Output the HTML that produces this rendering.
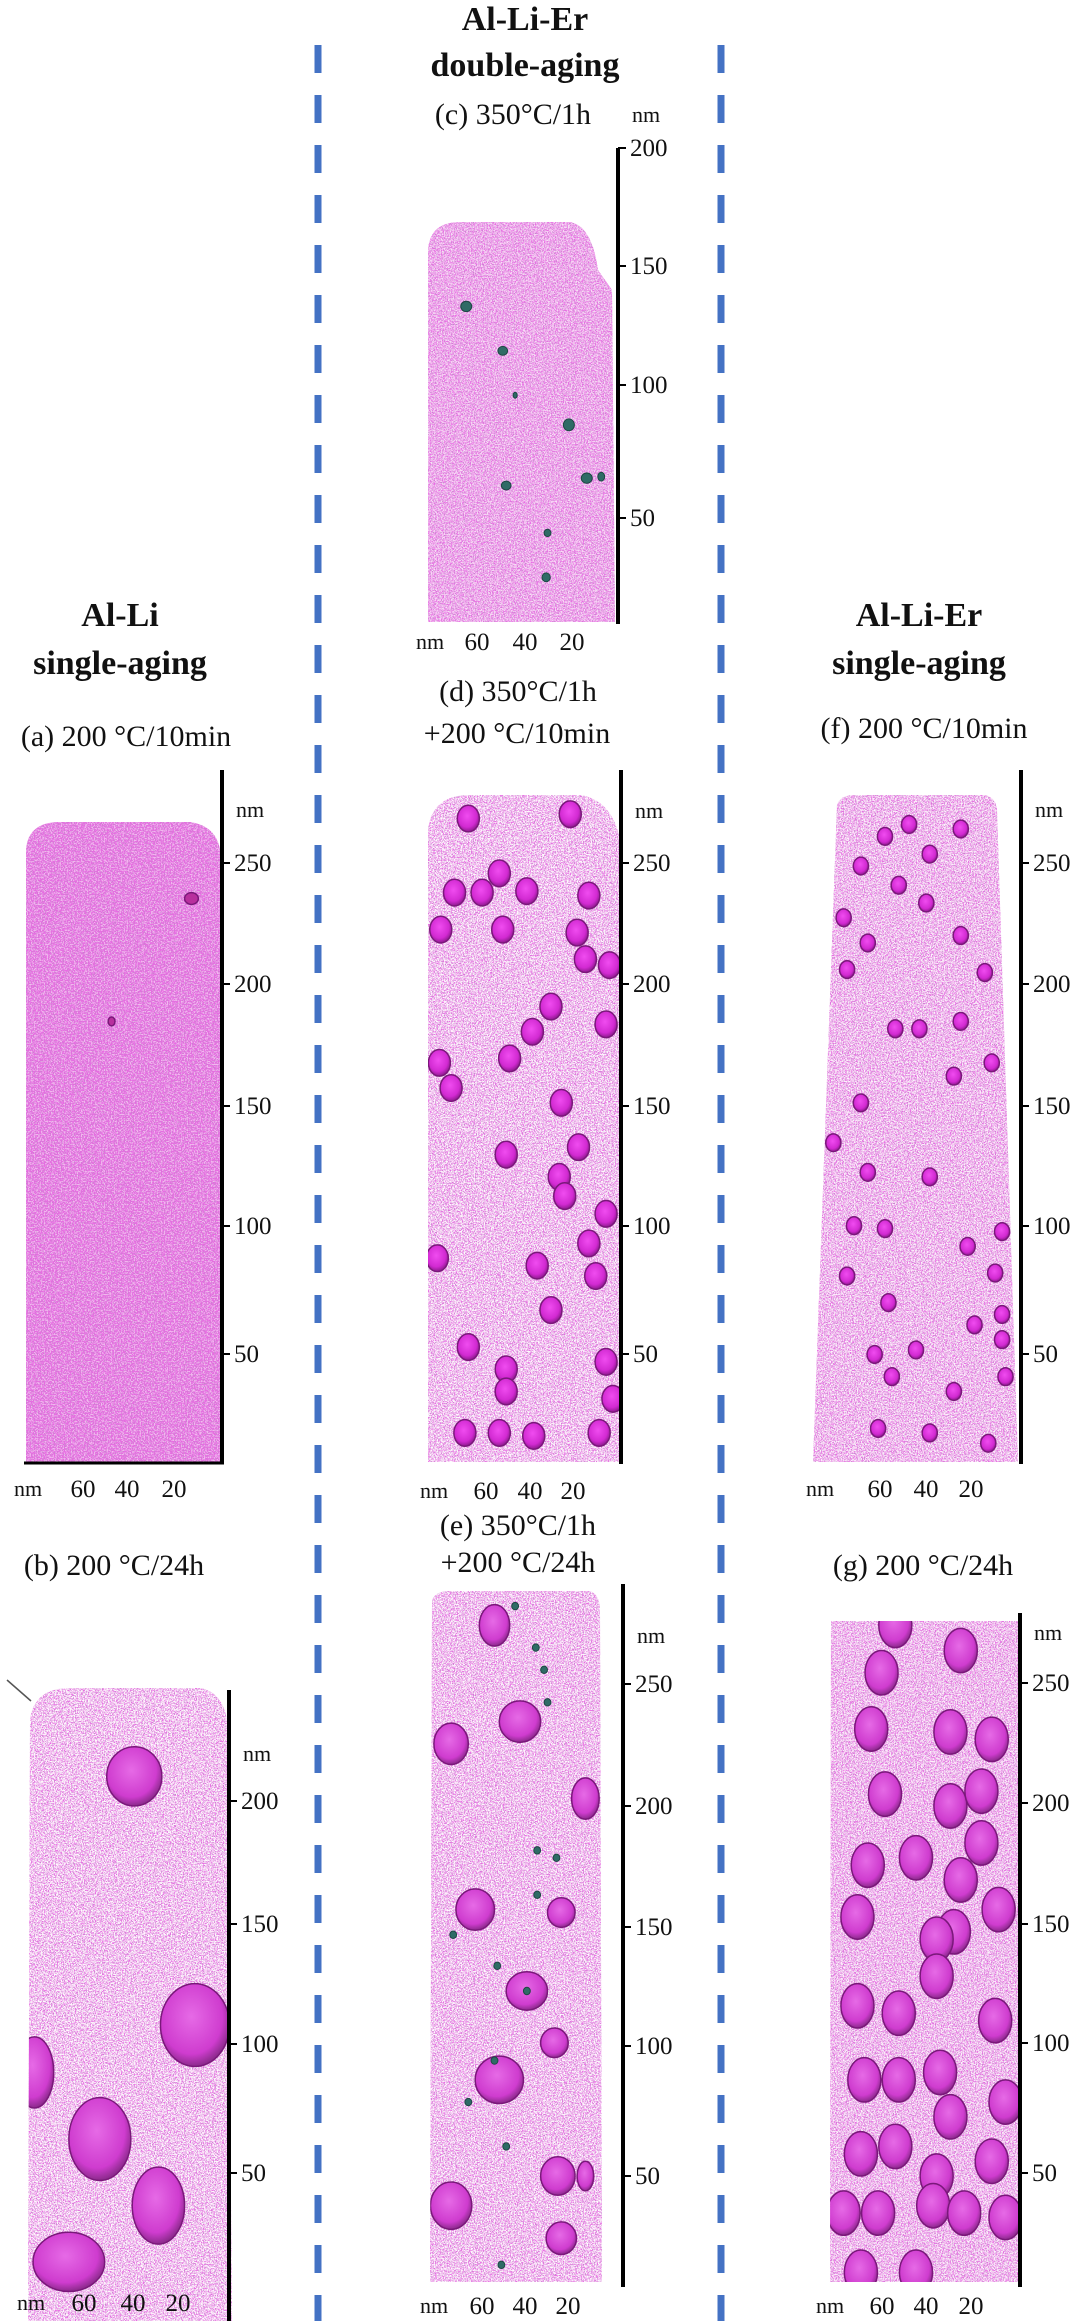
<!DOCTYPE html>
<html><head><meta charset="utf-8">
<style>
html,body{margin:0;padding:0;background:#fff;}
svg{display:block;}
text{font-family:"Liberation Serif",serif;fill:#111;}
.t{font-weight:bold;font-size:34px;}
.l{font-size:30px;}
.k{font-size:25px;}
.n{font-size:22px;}
</style></head>
<body>
<svg id="fig" width="1080" height="2321" viewBox="0 0 1080 2321" xmlns="http://www.w3.org/2000/svg">
<defs>
<filter id="speck" x="0" y="0" width="100%" height="100%">
<feTurbulence type="fractalNoise" baseFrequency="0.85" numOctaves="1" seed="3"/>
<feColorMatrix type="matrix" values="0 0 0 0 0.82  0 0 0 0 0.15  0 0 0 0 0.78  7 0 0 0 -3.1"/>
</filter>
<filter id="speck2" x="0" y="0" width="100%" height="100%">
<feTurbulence type="fractalNoise" baseFrequency="0.9" numOctaves="1" seed="8"/>
<feColorMatrix type="matrix" values="0 0 0 0 0.55  0 0 0 0 0.25  0 0 0 0 0.6  8 0 0 0 -4.6"/>
</filter>
<filter id="speckw" x="0" y="0" width="100%" height="100%">
<feTurbulence type="fractalNoise" baseFrequency="0.7" numOctaves="2" seed="15"/>
<feColorMatrix type="matrix" values="0 0 0 0 1  0 0 0 0 1  0 0 0 0 1  9 0 0 0 -4.3"/>
</filter>
<radialGradient id="blob" cx="45%" cy="40%" r="60%">
<stop offset="0" stop-color="#f04cf0"/><stop offset="0.7" stop-color="#d22ad2"/><stop offset="1" stop-color="#8e1a8e"/>
</radialGradient>
<radialGradient id="blobg" cx="45%" cy="40%" r="60%">
<stop offset="0" stop-color="#e66ae6"/><stop offset="0.75" stop-color="#cf3ccf"/><stop offset="1" stop-color="#8c2a8c"/>
</radialGradient>
<clipPath id="cpa"><path d="M26,1462 L26,850 Q28,822 60,822 L190,822 Q216,826 220,850 L220,1462 Z"/></clipPath>
<clipPath id="cpb"><path d="M28,2321 L30,1720 Q34,1688 70,1688 L200,1688 Q222,1692 227,1720 L232,2321 Z"/></clipPath>
<clipPath id="cpc"><path d="M428,622 L428,250 Q430,222 460,222 L570,222 Q592,226 598,270 L612,290 L615,622 Z"/></clipPath>
<clipPath id="cpd"><path d="M428,1462 L428,830 Q432,795 470,795 L580,795 Q612,800 620,840 L620,1462 Z"/></clipPath>
<clipPath id="cpe"><path d="M430,2282 L432,1600 Q436,1591 450,1591 L590,1591 Q600,1595 600,1610 L602,2282 Z"/></clipPath>
<clipPath id="cpf"><path d="M813,1462 L837,805 Q840,795 855,795 L985,795 Q996,798 997,810 L1018,1462 Z"/></clipPath>
<clipPath id="cpg"><path d="M830,2282 L831,1621 L1018,1621 L1018,2282 Z"/></clipPath>
</defs>
<g id="dashes">
<line x1="318" y1="45" x2="318" y2="2321" stroke="#4472C4" stroke-width="7" stroke-dasharray="28 22"/>
<line x1="721" y1="45" x2="721" y2="2321" stroke="#4472C4" stroke-width="7" stroke-dasharray="28 22"/>
</g>
<g id="specimens"></g>
<g id="labels"></g>
</svg>
<script>
const SX=1/1.452, SY=1.4803;
const blobsA=[[278,607,10,4],[162,690,5,3]];
const blobsB=[[195,1200,40,20],[283,1368,50,28],[50,1400,28,24],[145,1445,45,28],[230,1490,38,26],[100,1528,52,20]];
const greenC=[[677,207,8,3.5],[730,237,7,3],[748,267,3,2],[826,287,8,4],[735,328,7,3],[852,323,8,3.5],[873,322,5,3],[795,360,5,2.5],[793,390,6,3]];
const blobsD=[[680,553],[725,590],[765,602],[660,603],[700,603],[828,550],[855,605],[640,628],[730,628],[838,630],[850,648],[885,652],[800,680],[773,697],[740,715],[638,718],[655,735],[880,692],[815,745],[735,780],[840,775],[812,795],[820,808],[880,820],[855,840],[635,850],[780,855],[865,862],[800,885],[680,910],[735,925],[735,940],[880,920],[675,968],[725,968],[775,970],[870,968],[890,945]];
const blobsE=[[718,1098,22,14],[655,1178,25,14],[755,1163,30,14],[850,1215,20,14],[690,1290,28,14],[815,1292,20,10],[765,1345,30,13],[725,1405,35,16],[805,1380,20,10],[810,1470,25,13],[655,1490,30,16],[815,1512,22,11],[850,1470,12,10]];
const greenE=[[748,1085],[778,1113],[790,1128],[795,1150],[780,1250],[808,1255],[658,1307],[722,1328],[765,1345],[718,1392],[680,1420],[735,1450],[728,1530],[780,1280]];
const blobsF=[[1285,565],[1320,557],[1395,560],[1350,577],[1250,585],[1305,598],[1345,610],[1225,620],[1395,632],[1260,637],[1430,657],[1230,655],[1300,695],[1335,695],[1395,690],[1440,718],[1250,745],[1385,727],[1210,772],[1260,792],[1350,795],[1240,828],[1285,830],[1405,842],[1455,832],[1445,860],[1230,862],[1290,880],[1455,888],[1330,912],[1270,915],[1455,905],[1460,930],[1385,940],[1295,930],[1435,975],[1275,965],[1350,968],[1415,895]];
const blobsG=[[1300,1098],[1395,1115],[1280,1130],[1265,1168],[1380,1170],[1440,1175],[1285,1212],[1380,1220],[1425,1210],[1260,1260],[1330,1255],[1395,1270],[1425,1245],[1245,1295],[1385,1305],[1360,1310],[1450,1290],[1360,1335],[1245,1355],[1305,1360],[1445,1365],[1255,1405],[1305,1405],[1365,1400],[1460,1420],[1380,1430],[1250,1455],[1300,1450],[1360,1470],[1440,1460],[1225,1495],[1275,1495],[1355,1490],[1400,1495],[1460,1498],[1250,1535],[1330,1535]];
const yTicks=["250","200","150","100","50"];
const yTicksC=["200","150","100","50"];
const xTicks=["60","40","20"];

const NS="http://www.w3.org/2000/svg";
const spec=document.getElementById('specimens');
const lab=document.getElementById('labels');
function mk(tag,attrs,parent){const e=document.createElementNS(NS,tag);for(const k in attrs)e.setAttribute(k,attrs[k]);parent.appendChild(e);return e;}

function specimen(name,clip,bbox,base,blobs,defR,fill,greens,whiteOp){
  const g=mk('g',{'clip-path':'url(#'+clip+')'},spec);
  
  
  mk('rect',{x:bbox[0],y:bbox[1],width:bbox[2],height:bbox[3],fill:base},g);
  mk('rect',{x:bbox[0],y:bbox[1],width:bbox[2],height:bbox[3],filter:'url(#speck)'},g);
  mk('rect',{x:bbox[0],y:bbox[1],width:bbox[2],height:bbox[3],filter:'url(#speckw)',opacity:whiteOp},g);
  mk('rect',{x:bbox[0],y:bbox[1],width:bbox[2],height:bbox[3],filter:'url(#speck2)'},g);
  blobs.forEach(b=>{
    const rx=(b[2]||defR[0])*SX, ry=(b[3]||defR[1])*SY;
    const e=mk('ellipse',{cx:b[0]*SX,cy:b[1]*SY,rx:rx,ry:ry,fill:fill,stroke:'#7a187a','stroke-width':1.5},g);
    
    
  });
  (greens||[]).forEach(b=>{
    const e=mk('ellipse',{cx:b[0]*SX,cy:b[1]*SY,rx:(b[2]||5)*SX,ry:(b[3]||2.5)*SY,fill:'#2f6b66',stroke:'#1e4744','stroke-width':1},g);
    
    
  });
}
specimen('specimen-a','cpa',[20,815,205,650],'#e070dc',blobsA,[8,5],'#b8309e',null,0.5);
specimen('specimen-b','cpb',[20,1680,215,641],'#f6dcf3',blobsB,[30,20],'url(#blobg)',null,0.9);
specimen('specimen-c','cpc',[425,218,192,406],'#eeb4eb',[],[0,0],'',greenC,0.6);
specimen('specimen-d','cpd',[425,790,198,675],'#f4d4f1',blobsD,[16,9],'url(#blob)',null,0.9);
specimen('specimen-e','cpe',[428,1588,176,696],'#f4d4f1',blobsE,[20,12],'url(#blobg)',greenE,0.9);
specimen('specimen-f','cpf',[810,790,210,675],'#f2cdef',blobsF,[11,6],'url(#blob)',null,0.8);
specimen('specimen-g','cpg',[828,1618,192,666],'#f2cdef',blobsG,[24,15],'url(#blobg)',null,0.8);

function txt(s,x,y,cls,anchor,name){
  const t=mk('text',{x:x,y:y,class:cls,'text-anchor':anchor||'middle'},lab);
  t.textContent=s;
  
  
  return t;
}
function axis(name,ax,top,bot,ys,labels,nmY,bottom){
  const g=mk('g',{},lab);
  
  
  mk('line',{x1:ax,y1:top,x2:ax,y2:bot,stroke:'#000','stroke-width':4},g);
  labels.forEach((s,i)=>{
    mk('line',{x1:ax,y1:ys[i],x2:ax+8,y2:ys[i],stroke:'#000','stroke-width':2},g);
    const t=mk('text',{x:ax+12,y:ys[i]+8,class:'k'},g);t.textContent=s;
    
    
  });
  const n=mk('text',{x:ax+14,y:nmY+7,class:'n'},g);n.textContent='nm';
  
  
  if(bottom){
    const [by,bx]=bottom;
    const n2=mk('text',{x:bx[0],y:by+8,class:'n','text-anchor':'middle'},g);n2.textContent='nm';
    
    
    xTicks.forEach((s,i)=>{
      const t=mk('text',{x:bx[i+1],y:by+9,class:'k','text-anchor':'middle'},g);t.textContent=s;
      
      
    });
  }
}
const ysA=[863,984,1106,1226,1354];
axis('axis-a',222,770,1464,ysA,yTicks,810,[1488,[28,83,127,174]]);
mk('line',{x1:24,y1:1463,x2:224,y2:1463,stroke:'#000','stroke-width':3},lab);
axis('axis-b',229,1690,2321,[1801,1924,2044,2173],["200","150","100","50"],1754,[2302,[31,84,133,178]]);
mk('line',{x1:7,y1:1680,x2:31,y2:1701,stroke:'#555','stroke-width':1.5},lab);
axis('axis-c',618,148,624,[148,266,385,518],yTicksC,115,[641,[430,477,525,572]]);
axis('axis-d',621,770,1464,ysA,yTicks,811,[1490,[434,486,530,573]]);
axis('axis-e',623,1584,2287,[1684,1806,1927,2046,2176],yTicks,1636,[2305,[434,482,525,568]]);
axis('axis-f',1021,770,1464,ysA,yTicks,810,[1488,[820,880,926,971]]);
axis('axis-g',1020,1613,2287,[1683,1803,1924,2043,2173],yTicks,1633,[2305,[830,882,926,971]]);

txt('Al-Li',120,626,'t','middle','title-al-li');
txt('single-aging',120,674,'t','middle','subtitle-single-aging-al-li');
txt('(a) 200 °C/10min',126,746,'l','middle','label-a');
txt('(b) 200 °C/24h',114,1575,'l','middle','label-b');
txt('Al-Li-Er',525,30,'t','middle','title-al-li-er-double');
txt('double-aging',525,76,'t','middle','subtitle-double-aging');
txt('(c) 350°C/1h',513,124,'l','middle','label-c');
txt('(d) 350°C/1h',518,701,'l','middle','label-d');
txt('+200 °C/10min',517,743,'l','middle','label-d-2');
txt('(e) 350°C/1h',518,1535,'l','middle','label-e');
txt('+200 °C/24h',518,1572,'l','middle','label-e-2');
txt('Al-Li-Er',919,626,'t','middle','title-al-li-er-single');
txt('single-aging',919,674,'t','middle','subtitle-single-aging-er');
txt('(f) 200 °C/10min',924,738,'l','middle','label-f');
txt('(g) 200 °C/24h',923,1575,'l','middle','label-g');
</script>
</body></html>
